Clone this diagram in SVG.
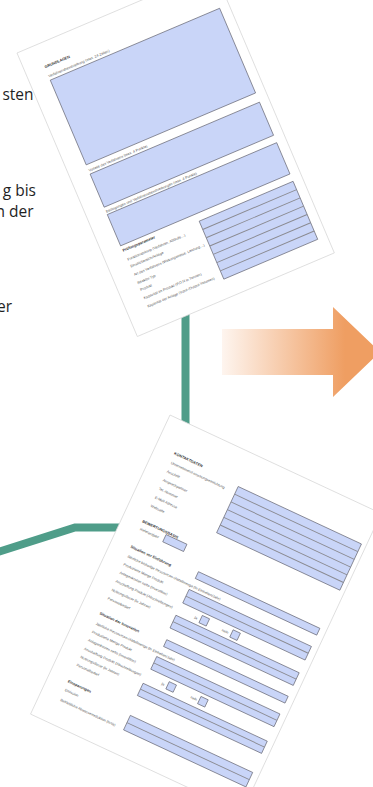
<svg xmlns="http://www.w3.org/2000/svg" width="373" height="787" viewBox="0 0 373 787">
<defs>
<linearGradient id="og" gradientUnits="userSpaceOnUse" x1="222" y1="0" x2="345" y2="0">
<stop offset="0" stop-color="#fef5ef"/>
<stop offset="1" stop-color="#ef9e62"/>
</linearGradient>
<style>
.txt{font-family:"Open Sans","Liberation Sans",sans-serif;font-size:15.5px;fill:#1f1f1f}
.page{fill:#ffffff;stroke:#d6d6d6;stroke-width:0.7}
.fld{fill:#c9d5f8;stroke:#5a5a66;stroke-width:0.6}
.sep{stroke:#8a8a90;stroke-width:0.9}
.lb{font-family:"Liberation Sans",sans-serif;font-size:3.6px;fill:#555}
.hd{font-family:"Liberation Sans",sans-serif;font-size:3.8px;font-weight:bold;fill:#333}
.con{fill:none;stroke:#4f9d89;stroke-width:8}
</style>
</defs>
<rect width="373" height="787" fill="#ffffff"/>
<g id="text">
<text class="txt" x="33.5" y="100" text-anchor="end">sten</text>
<text class="txt" x="36" y="196" text-anchor="end">g bis</text>
<text class="txt" x="33.5" y="217" text-anchor="end">n der</text>
<text class="txt" x="12" y="311.5" text-anchor="end">er</text>
</g>
<g id="connectors">
<line class="con" x1="185.5" y1="300" x2="185.5" y2="440"/>
<polyline class="con" points="-5,553 75,527.5 140,527.5"/>
</g>
<g id="arrow">
<polygon points="222,329 333,329 333,307 380,352 333,397 333,375 222,375" fill="url(#og)"/>
</g>
<g id="page1" transform="translate(17,53) rotate(-23)">
<rect class="page" x="0" y="0" width="214" height="308"/>
<text class="hd" x="20" y="25">GRUNDLAGEN</text>
<text class="lb" x="20" y="35">Verfahrensbeschreibung (max. 24 Zeilen)</text>
<rect class="fld" x="20" y="38" width="184" height="92"/>
<text class="lb" x="20" y="137.5">Vorteile des Verfahrens (max. 4 Punkte)</text>
<rect class="fld" x="20" y="140" width="184" height="36"/>
<text class="lb" x="20" y="182">Bedingungen und Verfahrensbeschreibungen (max. 4 Punkte)</text>
<rect class="fld" x="20" y="184" width="184" height="34"/>
<text class="hd" x="20" y="224.5">Prüfungsparameter</text>
<rect class="fld" x="102" y="226" width="102" height="63"/>
<line class="sep" x1="102" y1="235" x2="204" y2="235"/>
<line class="sep" x1="102" y1="244" x2="204" y2="244"/>
<line class="sep" x1="102" y1="253" x2="204" y2="253"/>
<line class="sep" x1="102" y1="262" x2="204" y2="262"/>
<line class="sep" x1="102" y1="271" x2="204" y2="271"/>
<line class="sep" x1="102" y1="280" x2="204" y2="280"/>
<text class="lb" x="21" y="234.5">Funktionsprinzip (Verfahren, Abläufe…)</text>
<text class="lb" x="21" y="242">Einsatzbereich/Anlage</text>
<text class="lb" x="21" y="251">Art des Verfahrens (Wirkungsweise, Leistung…)</text>
<text class="lb" x="21" y="260">Reaktor-Typ</text>
<text class="lb" x="21" y="267.5">Produkt</text>
<text class="lb" x="21" y="276.5">Kapazität im Produkt (P,O,N in Tonnen)</text>
<text class="lb" x="21" y="285.5">Kapazität der Anlage (Input-/Output-Volumen)</text>
</g>
<g id="page2" transform="translate(170,415) rotate(25)">
<rect class="page" x="0" y="0" width="233" height="330"/>
<text class="hd" x="20" y="34">KONTAKTDATEN</text>
<text class="lb" x="21" y="44">Unternehmen/Forschungseinrichtung</text>
<text class="lb" x="21" y="53.5">Anschrift</text>
<text class="lb" x="21" y="63">Ansprechpartner</text>
<text class="lb" x="21" y="72.5">Tel.-Nummer</text>
<text class="lb" x="21" y="82">E-Mail-Adresse</text>
<text class="lb" x="21" y="91.5">Webseite</text>
<rect class="fld" x="92" y="36" width="136" height="51"/>
<line class="sep" x1="92" y1="44.5" x2="228" y2="44.5"/>
<line class="sep" x1="92" y1="53" x2="228" y2="53"/>
<line class="sep" x1="92" y1="61.5" x2="228" y2="61.5"/>
<line class="sep" x1="92" y1="70" x2="228" y2="70"/>
<line class="sep" x1="92" y1="78.5" x2="228" y2="78.5"/>
<text class="hd" x="20" y="109">BEWERTUNGSBASIS</text>
<text class="lb" x="21" y="117">Referenzjahr</text>
<rect class="fld" x="47" y="110" width="23" height="8"/>

<text class="hd" x="20" y="137">Situation vor Einführung</text>
<text class="lb" x="21" y="147">Jährliche bisherige Ressourcen-/Abfallmenge (in Einheiten/Jahr)</text>
<text class="lb" x="21" y="156">Produzierte Menge Produkt</text>
<text class="lb" x="21" y="165">Anlagenkosten netto (Investition)</text>
<text class="lb" x="21" y="174.5">Anschaffung Produkt (Abschreibungen)</text>
<text class="lb" x="21" y="184">Nutzungsdauer (in Jahren)</text>
<text class="lb" x="21" y="193.5">Personalbedarf</text>
<rect class="fld" x="92" y="130" width="134" height="7.5"/>
<rect class="fld" x="91" y="150" width="135" height="15"/>
<line class="sep" x1="91" y1="157.5" x2="226" y2="157.5"/>
<text class="lb" x="108" y="174">ja</text>
<rect class="fld" x="114" y="168" width="8" height="8"/>
<text class="lb" x="138" y="174">nein</text>
<rect class="fld" x="148" y="168" width="8" height="8"/>
<rect class="fld" x="90" y="179" width="136" height="14"/>
<line class="sep" x1="90" y1="186" x2="226" y2="186"/>

<text class="hd" x="20" y="210.5">Situation der Innovation</text>
<text class="lb" x="21" y="221.5">Jährliche Ressourcen-/Abfallmenge (in Einheiten/Jahr)</text>
<text class="lb" x="21" y="230.5">Produzierte Menge Produkt</text>
<text class="lb" x="21" y="239.5">Anlagenkosten netto (Investition)</text>
<text class="lb" x="21" y="249">Anschaffung Produkt (Abschreibungen)</text>
<text class="lb" x="21" y="258">Nutzungsdauer (in Jahren)</text>
<text class="lb" x="21" y="267">Personalbedarf</text>
<rect class="fld" x="92" y="205" width="134" height="7.5"/>
<rect class="fld" x="90" y="224.5" width="136" height="14"/>
<line class="sep" x1="90" y1="231.5" x2="226" y2="231.5"/>
<text class="lb" x="106" y="248">ja</text>
<rect class="fld" x="112" y="242" width="8" height="8"/>
<text class="lb" x="138" y="248">nein</text>
<rect class="fld" x="147" y="242" width="8" height="8"/>
<rect class="fld" x="89" y="254.5" width="137" height="13.5"/>
<line class="sep" x1="89" y1="261" x2="226" y2="261"/>

<text class="hd" x="20" y="285.5">Einsparungen</text>
<text class="lb" x="21" y="294.5">Emission</text>
<text class="lb" x="21" y="305.5">Betriebliche Abwasserreduktion (m³/a)</text>
<rect class="fld" x="91" y="289" width="135" height="16"/>
<line class="sep" x1="91" y1="297" x2="226" y2="297"/>
</g>
</svg>
